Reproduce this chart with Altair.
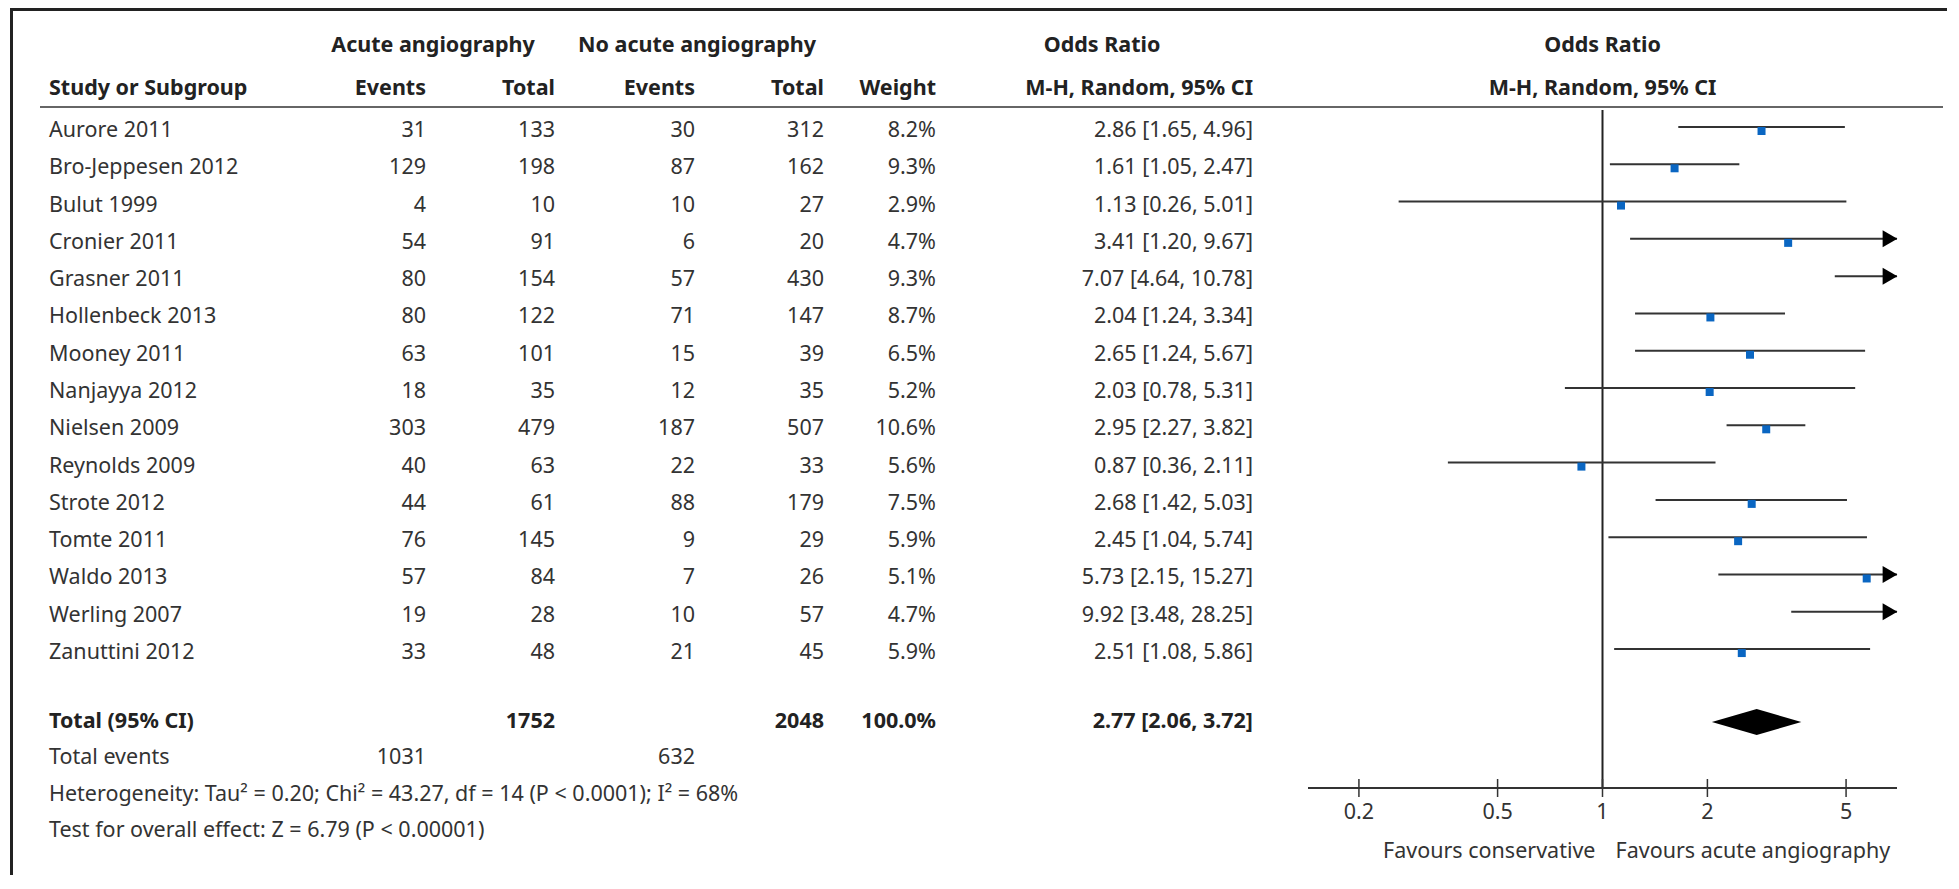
import altair as alt
import pandas as pd

# ---------------- data ----------------
studies = ["Aurore 2011", "Bro-Jeppesen 2012", "Bulut 1999", "Cronier 2011", "Grasner 2011",
           "Hollenbeck 2013", "Mooney 2011", "Nanjayya 2012", "Nielsen 2009", "Reynolds 2009",
           "Strote 2012", "Tomte 2011", "Waldo 2013", "Werling 2007", "Zanuttini 2012"]
events_acute = [31, 129, 4, 54, 80, 80, 63, 18, 303, 40, 44, 76, 57, 19, 33]
total_acute = [133, 198, 10, 91, 154, 122, 101, 35, 479, 63, 61, 145, 84, 28, 48]
events_none = [30, 87, 10, 6, 57, 71, 15, 12, 187, 22, 88, 9, 7, 10, 21]
total_none = [312, 162, 27, 20, 430, 147, 39, 35, 507, 33, 179, 29, 26, 57, 45]
weights = [8.2, 9.3, 2.9, 4.7, 9.3, 8.7, 6.5, 5.2, 10.6, 5.6, 7.5, 5.9, 5.1, 4.7, 5.9]
odds_ratio = [2.86, 1.61, 1.13, 3.41, 7.07, 2.04, 2.65, 2.03, 2.95, 0.87, 2.68, 2.45, 5.73, 9.92, 2.51]
ci_low = [1.65, 1.05, 0.26, 1.20, 4.64, 1.24, 1.24, 0.78, 2.27, 0.36, 1.42, 1.04, 2.15, 3.48, 1.08]
ci_high = [4.96, 2.47, 5.01, 9.67, 10.78, 3.34, 5.67, 5.31, 3.82, 2.11, 5.03, 5.74, 15.27, 28.25, 5.86]

total_label = "Total (95% CI)"
sum_total_acute = 1752
sum_total_none = 2048
sum_weight = "100.0%"
pooled_or, pooled_low, pooled_high = 2.77, 2.06, 3.72
total_events_label = "Total events"
sum_events_acute = 1031
sum_events_none = 632
heterogeneity = "Heterogeneity: Tau\u00b2 = 0.20; Chi\u00b2 = 43.27, df = 14 (P < 0.0001); I\u00b2 = 68%"
overall_effect = "Test for overall effect: Z = 6.79 (P < 0.00001)"
tick_values = [0.2, 0.5, 1, 2, 5]
tick_labels = ["0.2", "0.5", "1", "2", "5"]
x_min, x_max = 1 / 7, 7
favours_left = "Favours conservative"
favours_right = "Favours acute angiography"

# ---------------- layout ----------------
W, H = 1934, 862
FONT = "Noto Sans"
FS = 21.5
TXT = "#333333"
HDR = "#222222"
ROW0 = 118
ROWH = 37.29
n = len(studies)
ROW_TOTAL = n + 0.85
ROW_EVENTS = n + 1.82
ROW_HET = n + 2.80
ROW_TEST = n + 3.77

yscale = alt.Scale(domain=[0, 20], range=[ROW0, ROW0 + 20 * ROWH], nice=False, zero=False)
xscale = alt.Scale(type="log", domain=[x_min, x_max], range=[1295, 1884], nice=False)

X_STUDY = 36
X_EV1, X_TOT1, X_EV2, X_TOT2, X_W, X_CI = 413, 542, 682, 811, 923, 1240
AXIS_Y = 775

df = pd.DataFrame({
    "study": studies,
    "ev1": [str(v) for v in events_acute],
    "tot1": [str(v) for v in total_acute],
    "ev2": [str(v) for v in events_none],
    "tot2": [str(v) for v in total_none],
    "w": [f"{v:.1f}%" for v in weights],
    "ci": [f"{o:.2f} [{l:.2f}, {h:.2f}]" for o, l, h in zip(odds_ratio, ci_low, ci_high)],
    "or": odds_ratio,
    "lo": ci_low,
    "hi": ci_high,
})
df["row"] = range(n)
df["lo_c"] = df["lo"].clip(lower=x_min)
df["hi_c"] = df["hi"].clip(upper=x_max)

one = pd.DataFrame({"a": [0]})
Y = alt.Y("row:Q", scale=yscale, axis=None)


def label(text, x, y, align="left", bold=False, color=None):
    return alt.Chart(one).mark_text(
        text=text, align=align, baseline="middle", font=FONT, fontSize=FS,
        fontWeight="bold" if bold else "normal", color=color or (HDR if bold else TXT)
    ).encode(x=alt.value(x), y=alt.value(y))


def col(field, x, align="right"):
    return alt.Chart(df).mark_text(
        align=align, baseline="middle", font=FONT, fontSize=FS, color=TXT
    ).encode(x=alt.value(x), y=Y, text=f"{field}:N")


layers = []

# frame
layers.append(alt.Chart(one).mark_rule(color="#222222", strokeWidth=3).encode(
    x=alt.value(-3), x2=alt.value(W + 10), y=alt.value(-3.5)))
layers.append(alt.Chart(one).mark_rule(color="#222222", strokeWidth=3).encode(
    x=alt.value(-1.5), y=alt.value(-6), y2=alt.value(H + 10)))

# header
H1, H2 = 33, 76
layers += [
    label("Acute angiography", 420, H1, "center", True),
    label("No acute angiography", 684, H1, "center", True),
    label("Odds Ratio", 1089, H1, "center", True),
    label("Study or Subgroup", X_STUDY, H2, "left", True),
    label("Events", X_EV1, H2, "right", True),
    label("Total", X_TOT1, H2, "right", True),
    label("Events", X_EV2, H2, "right", True),
    label("Total", X_TOT2, H2, "right", True),
    label("Weight", X_W, H2, "right", True),
    label("M-H, Random, 95% CI", X_CI, H2, "right", True),
]
# forest headers centered on OR = 1
hdr_df = pd.DataFrame({"v": [1]})
for txt, yy in [("Odds Ratio", H1), ("M-H, Random, 95% CI", H2)]:
    layers.append(alt.Chart(hdr_df).mark_text(
        text=txt, align="center", baseline="middle", font=FONT, fontSize=FS,
        fontWeight="bold", color=HDR).encode(
        x=alt.X("v:Q", scale=xscale, axis=None), y=alt.value(yy)))

layers.append(alt.Chart(one).mark_rule(color="#666666", strokeWidth=2).encode(
    x=alt.value(27), x2=alt.value(1930), y=alt.value(94)))

# table body
layers += [
    col("study", X_STUDY, "left"),
    col("ev1", X_EV1), col("tot1", X_TOT1), col("ev2", X_EV2), col("tot2", X_TOT2),
    col("w", X_W), col("ci", X_CI),
]

# totals
def row_y(r):
    return ROW0 + r * ROWH

layers += [
    label(total_label, X_STUDY, row_y(ROW_TOTAL), "left", True),
    label(str(sum_total_acute), X_TOT1, row_y(ROW_TOTAL), "right", True),
    label(str(sum_total_none), X_TOT2, row_y(ROW_TOTAL), "right", True),
    label(sum_weight, X_W, row_y(ROW_TOTAL), "right", True),
    label(f"{pooled_or:.2f} [{pooled_low:.2f}, {pooled_high:.2f}]", X_CI, row_y(ROW_TOTAL), "right", True),
    label(total_events_label, X_STUDY, row_y(ROW_EVENTS), "left"),
    label(str(sum_events_acute), X_EV1, row_y(ROW_EVENTS), "right"),
    label(str(sum_events_none), X_EV2, row_y(ROW_EVENTS), "right"),
    label(heterogeneity, X_STUDY, row_y(ROW_HET), "left"),
    label(overall_effect, X_STUDY, row_y(ROW_TEST), "left"),
]

# forest plot
layers.append(alt.Chart(hdr_df).mark_rule(color="#222222", strokeWidth=2).encode(
    x=alt.X("v:Q", scale=xscale, axis=None), y=alt.value(97), y2=alt.value(AXIS_Y)))

layers.append(alt.Chart(df).mark_rule(color="#333333", strokeWidth=2, yOffset=-4).encode(
    x=alt.X("lo_c:Q", scale=xscale, axis=None), x2="hi_c:Q", y=Y))

layers.append(alt.Chart(df).transform_filter(
    (alt.datum["or"] <= x_max) & (alt.datum["or"] >= x_min)
).mark_square(size=64, color="#0a66c2", opacity=1).encode(
    x=alt.X("or:Q", scale=xscale, axis=None), y=Y))

layers.append(alt.Chart(df).transform_filter(alt.datum.hi > x_max).transform_calculate(
    xe=str(x_max)).mark_point(shape="triangle-right", filled=True, size=289, color="#000000",
                             opacity=1, xOffset=-7, yOffset=-4).encode(
    x=alt.X("xe:Q", scale=xscale, axis=None), y=Y))

half = 13 / ROWH
dia = pd.DataFrame({
    "x": [pooled_low, pooled_or, pooled_high],
    "y": [ROW_TOTAL, ROW_TOTAL - half, ROW_TOTAL],
    "y2": [ROW_TOTAL, ROW_TOTAL + half, ROW_TOTAL],
})
layers.append(alt.Chart(dia).mark_area(color="#000000", opacity=1, orient="vertical").encode(
    x=alt.X("x:Q", scale=xscale, axis=None), y=alt.Y("y:Q", scale=yscale, axis=None), y2="y2:Q"))

# axis
ax = pd.DataFrame({"a": [x_min], "b": [x_max]})
layers.append(alt.Chart(ax).mark_rule(color="#333333", strokeWidth=2).encode(
    x=alt.X("a:Q", scale=xscale, axis=None), x2="b:Q", y=alt.value(AXIS_Y)))
ticks = pd.DataFrame({"t": tick_values, "lab": tick_labels})
layers.append(alt.Chart(ticks).mark_rule(color="#333333", strokeWidth=1.5).encode(
    x=alt.X("t:Q", scale=xscale, axis=None), y=alt.value(AXIS_Y - 9), y2=alt.value(AXIS_Y + 9)))
layers.append(alt.Chart(ticks).mark_text(
    align="center", baseline="middle", font=FONT, fontSize=FS, color=TXT).encode(
    x=alt.X("t:Q", scale=xscale, axis=None), y=alt.value(AXIS_Y + 25), text="lab:N"))
layers.append(alt.Chart(hdr_df).mark_text(
    text=favours_left, align="right", baseline="middle", font=FONT, fontSize=FS, color=TXT, dx=-7).encode(
    x=alt.X("v:Q", scale=xscale, axis=None), y=alt.value(AXIS_Y + 64)))
layers.append(alt.Chart(hdr_df).mark_text(
    text=favours_right, align="left", baseline="middle", font=FONT, fontSize=FS, color=TXT, dx=13).encode(
    x=alt.X("v:Q", scale=xscale, axis=None), y=alt.value(AXIS_Y + 64)))

chart = alt.layer(*layers).properties(
    width=W, height=H,
    autosize=alt.AutoSizeParams(type="none"),
    padding={"left": 5, "top": 5, "right": 0, "bottom": 0},
    background="white",
).configure_view(strokeWidth=0)

chart.save("out.html", embed_options={"renderer": "svg", "actions": False})
